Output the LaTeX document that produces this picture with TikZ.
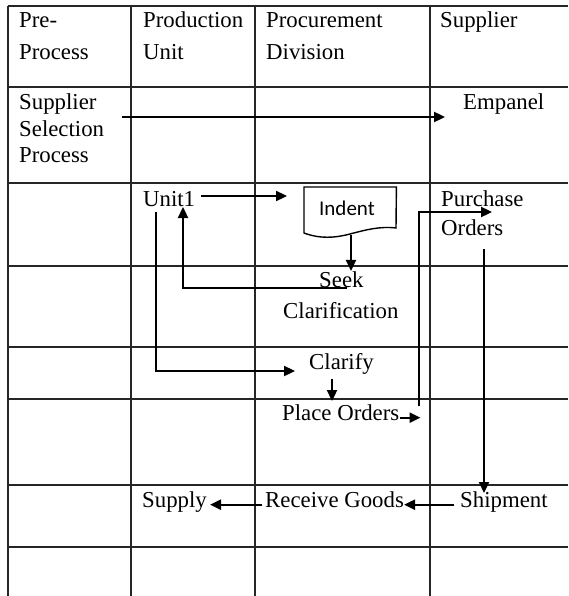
\documentclass[tikz,border=0pt]{standalone}
\usepackage{fontspec}
\setmainfont{Liberation Serif}
\newfontfamily\indentfont{Carlito}
\usetikzlibrary{arrows.meta}
\begin{document}
\begin{tikzpicture}[x=1pt,y=-1pt,
  grid/.style={line width=1.3pt,draw=black!85},
  lbl/.style={anchor=base west,inner sep=0pt,font=\fontsize{22.8}{27}\selectfont},
  arr/.style={line width=2.3pt,-{Triangle[length=11pt,width=10pt]}}]
\useasboundingbox[fill=white] (0,0) rectangle (568,596);
% table grid
\draw[grid] (8,6) -- (568,6);
\foreach \yy in {87,183,266,347,399,485,547} \draw[grid] (8,\yy) -- (568,\yy);
\foreach \xx in {8,131,255,430} \draw[grid] (\xx,6) -- (\xx,596);
% header
\node[lbl] (pre1) at (19,28) {Pre-};
\node[lbl] (pre2) at (19,60) {Process};
\node[lbl] (pu1) at (143,28) {Production};
\node[lbl] (pu2) at (143,60) {Unit};
\node[lbl] (pd1) at (266,28) {Procurement};
\node[lbl] (pd2) at (266,60) {Division};
\node[lbl] (sup) at (440,28) {Supplier};
% row 2
\node[lbl] (ssp1) at (19,110) {Supplier};
\node[lbl] (ssp2) at (19,137) {Selection};
\node[lbl] (ssp3) at (19,163) {Process};
\node[lbl] (empanel) at (463,110) {Empanel};
% row 3
\node[lbl] (unit1) at (143,206) {Unit1};
\node[anchor=north west,inner sep=0pt,minimum width=92pt,minimum height=46pt] (indent) at (304,187) {};
\node[anchor=base,inner sep=0pt,font=\indentfont\fontsize{21}{25}\selectfont] (indenttext) at (347,215) {Indent};
\node[lbl] (purch1) at (441,206) {Purchase};
\node[lbl] (purch2) at (441,235) {Orders};
% row 4
\node[lbl] (seek) at (319,287) {Seek};
\node[lbl] (clar) at (283,318) {Clarification};
% row 5
\node[lbl] (clarify) at (309,369) {Clarify};
% row 6
\node[lbl] (place) at (282,420) {Place Orders};
% row 7
\node[lbl] (supply) at (142,507) {Supply};
\node[lbl] (receive) at (265,507) {Receive Goods};
\node[lbl] (shipment) at (460,507) {Shipment};
% document shape
\draw[line width=1.4pt] (indent.north west) -- (indent.north east) -- (396,228)
  .. controls (380,226) and (365,230) .. (350,234)
  .. controls (335,238) and (320,239) .. (304,233) -- cycle;
% named free ends / bends
\coordinate (selstart) at (122,117);
\coordinate (unitstart) at (201,196);
\coordinate (seekbend) at (183,288);
\coordinate (unitbend) at (156,371);
\coordinate (placebend) at (419,212);
% connectors
\draw[arr] (selstart) -- ([xshift=-18pt]empanel.west |- selstart);
\draw[arr] (unitstart) -- (287,196);
\draw[arr] (351,235) -- (seek.north -| 351,0);
\draw[arr] (347,288) -- (seekbend) -- (183,207);
\draw[arr] (156,212) -- (unitbend) -- (295,371);
\draw[arr] (332,379) -- (332,401);
\draw[arr] (place.mid east) -- ++(21,0);
\draw[arr] (419,406) -- (placebend) -- (492,212);
\draw[arr] (484,249) -- (484,493);
\draw[arr] ([xshift=-6pt]shipment.mid west) -- (receive.mid east);
\draw[arr] ([xshift=-3pt]receive.mid west) -- ([xshift=3pt]supply.mid east);
\end{tikzpicture}
\end{document}
